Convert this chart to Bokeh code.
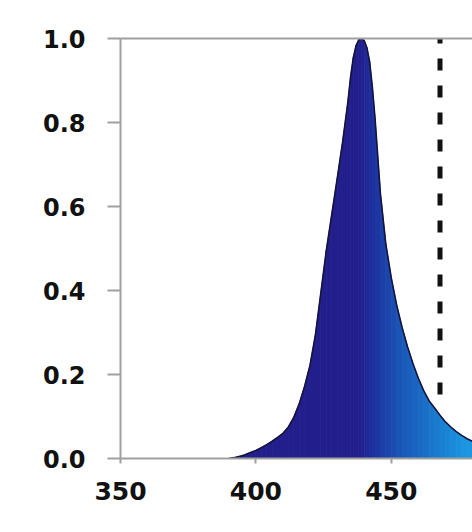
from bokeh.plotting import figure
from bokeh.models import Range1d, LinearAxis, FixedTicker, NumeralTickFormatter
from bokeh.embed import file_html
from bokeh.resources import INLINE

# ---- data ----
wavelength = [390, 392, 394, 396, 398, 400, 402, 404, 406, 408, 410, 412, 414, 416, 418,
              420, 422, 424, 426, 428, 430, 432, 434, 435, 436, 437, 438, 439, 440, 441,
              442, 443, 444, 446, 448, 450, 452, 454, 456, 458, 460, 462, 464, 466, 468,
              470, 472, 474, 476, 478, 480]
intensity = [0.000, 0.002, 0.005, 0.009, 0.014, 0.019, 0.026, 0.033, 0.041, 0.050, 0.060,
             0.075, 0.098, 0.130, 0.172, 0.222, 0.295, 0.395, 0.495, 0.580, 0.665, 0.752,
             0.850, 0.910, 0.955, 0.983, 0.997, 1.000, 0.995, 0.978, 0.945, 0.885, 0.810,
             0.630, 0.510, 0.430, 0.365, 0.312, 0.266, 0.226, 0.191, 0.161, 0.137, 0.120,
             0.103, 0.087, 0.075, 0.064, 0.055, 0.047, 0.041]
cutoff_nm = 468
cutoff_top = 1.0
cutoff_bottom = 0.12
x_ticks = [350, 400, 450]
y_ticks = [0.0, 0.2, 0.4, 0.6, 0.8, 1.0]

# ---- gradient colour helper (styling only) ----
stops = [(438, (34, 30, 140)), (442, (30, 44, 154)), (453, (26, 84, 182)),
         (468, (26, 126, 208)), (478, (28, 150, 226)), (490, (30, 154, 230))]


def grad(nm):
    if nm <= stops[0][0]:
        c = stops[0][1]
    else:
        c = stops[-1][1]
        for (a, ca), (b, cb) in zip(stops[:-1], stops[1:]):
            if a <= nm <= b:
                t = (nm - a) / (b - a)
                c = tuple(int(round(ca[i] + (cb[i] - ca[i]) * t)) for i in range(3))
                break
    return "#%02x%02x%02x" % c


p = figure(width=472, height=532, x_range=Range1d(350, 480), y_range=Range1d(0, 1),
           output_backend="svg", toolbar_location=None,
           min_border_left=120, min_border_right=0, min_border_top=38, min_border_bottom=74)
p.grid.visible = False
p.outline_line_color = None
p.background_fill_color = "white"
p.border_fill_color = "white"

# filled spectrum, one strip per pair of neighbouring readings
xs, ys, cols = [], [], []
for i in range(len(wavelength) - 1):
    x0, x1 = wavelength[i], wavelength[i + 1]
    y0, y1 = intensity[i], intensity[i + 1]
    xs.append([x0, x0, x1, x1])
    ys.append([0, y0, y1, 0])
    cols.append(grad((x0 + x1) / 2))
p.patches(xs, ys, fill_color=cols, line_color=cols, line_width=0.8)
p.line(wavelength, intensity, line_color="#14143c", line_width=1.6)

# dashed cut-off line
p.line([cutoff_nm, cutoff_nm], [cutoff_top, cutoff_bottom], line_color="#111111",
       line_width=5, line_dash="12 15", line_dash_offset=7)

# axes
ax_col = "#a0a0a0"
for ax in (p.xaxis[0], p.yaxis[0]):
    ax.axis_line_color = ax_col
    ax.axis_line_width = 2
    ax.major_tick_line_color = ax_col
    ax.major_tick_line_width = 2
    ax.major_tick_in = 0
    ax.minor_tick_line_color = None
    ax.major_label_text_font = "DejaVu Sans"
    ax.major_label_text_font_style = "bold"
    ax.major_label_text_color = "#111111"

p.xaxis[0].ticker = FixedTicker(ticks=x_ticks)
p.xaxis[0].major_tick_out = 5
p.xaxis[0].major_label_standoff = 18
p.xaxis[0].major_label_text_font_size = "25px"

p.yaxis[0].ticker = FixedTicker(ticks=y_ticks)
p.yaxis[0].formatter = NumeralTickFormatter(format="0.0")
p.yaxis[0].major_tick_out = 13
p.yaxis[0].major_label_standoff = 22
p.yaxis[0].major_label_text_font_size = "24px"

top = LinearAxis(ticker=FixedTicker(ticks=[]), axis_line_color=ax_col, axis_line_width=2,
                 major_tick_line_color=None, minor_tick_line_color=None,
                 major_label_text_font_size="0px")
p.add_layout(top, "above")

open("out.html", "w").write(file_html(p, INLINE))
